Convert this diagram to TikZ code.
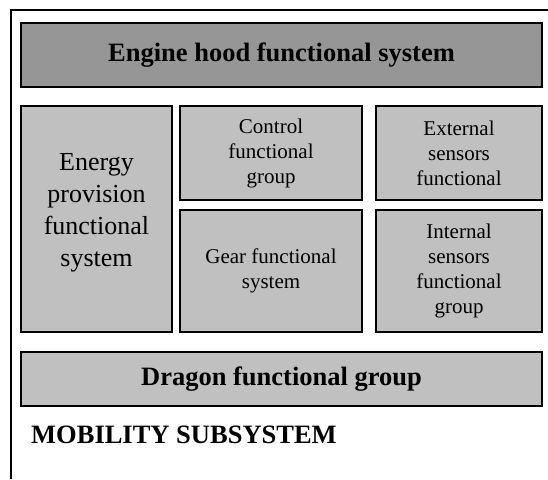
\documentclass[tikz,border=0pt]{standalone}
\usepackage{fontspec}
\setmainfont{Liberation Serif}
\usepackage{tikz}

\begin{document}
\begin{tikzpicture} [
    x=1pt, y=-1pt,
    box/.style      = { rectangle, draw=black, line width=1.6pt, fill=lightbox,
                        align=center, inner sep=0pt },
    headbox/.style  = { box, fill=darkbox, font=\fontsize{26.5}{32}\selectfont\bfseries },
    smalltext/.style = { font=\fontsize{21}{25}\selectfont },
    bigtext/.style  = { font=\fontsize{26}{32}\selectfont },
  ]
  \definecolor{lightbox}{RGB}{192,192,192}
  \definecolor{darkbox}{RGB}{150,150,150}
  \useasboundingbox (0,0) rectangle (548,479);

  % outer frame
  \coordinate (topright) at (548,10);
  \coordinate (corner) at (11,10);
  \coordinate (bottomleft) at (11,479);
  \draw[line width=1.5pt] (topright) -- (corner) -- (bottomleft);

  % Define nodes
  \node[headbox, minimum width=521, minimum height=64] (hood) at (281.5,55)
    {Engine hood functional system};
  \node[box, bigtext, minimum width=151, minimum height=226] (energy) at (96.5,219)
    {Energy\\provision\\functional\\system\\[-14pt]};
  \node[box, smalltext, minimum width=182, minimum height=94] (control) at (271,153)
    {Control\\functional\\group};
  \node[box, smalltext, minimum width=166, minimum height=94] (external) at (459,153)
    {External\\sensors\\functional};
  \node[box, smalltext, minimum width=182, minimum height=122] (gear) at (271,271)
    {Gear functional\\system};
  \node[box, smalltext, minimum width=166, minimum height=122] (internal) at (459,271)
    {Internal\\sensors\\functional\\group};
  \node[headbox, fill=lightbox, minimum width=521, minimum height=54] (dragon) at (281.5,379)
    {Dragon functional group};
  \node[anchor=west, inner sep=0pt, font=\fontsize{26.5}{32}\selectfont\bfseries] (mobility) at (31,435)
    {MOBILITY SUBSYSTEM};
\end{tikzpicture}
\end{document}
